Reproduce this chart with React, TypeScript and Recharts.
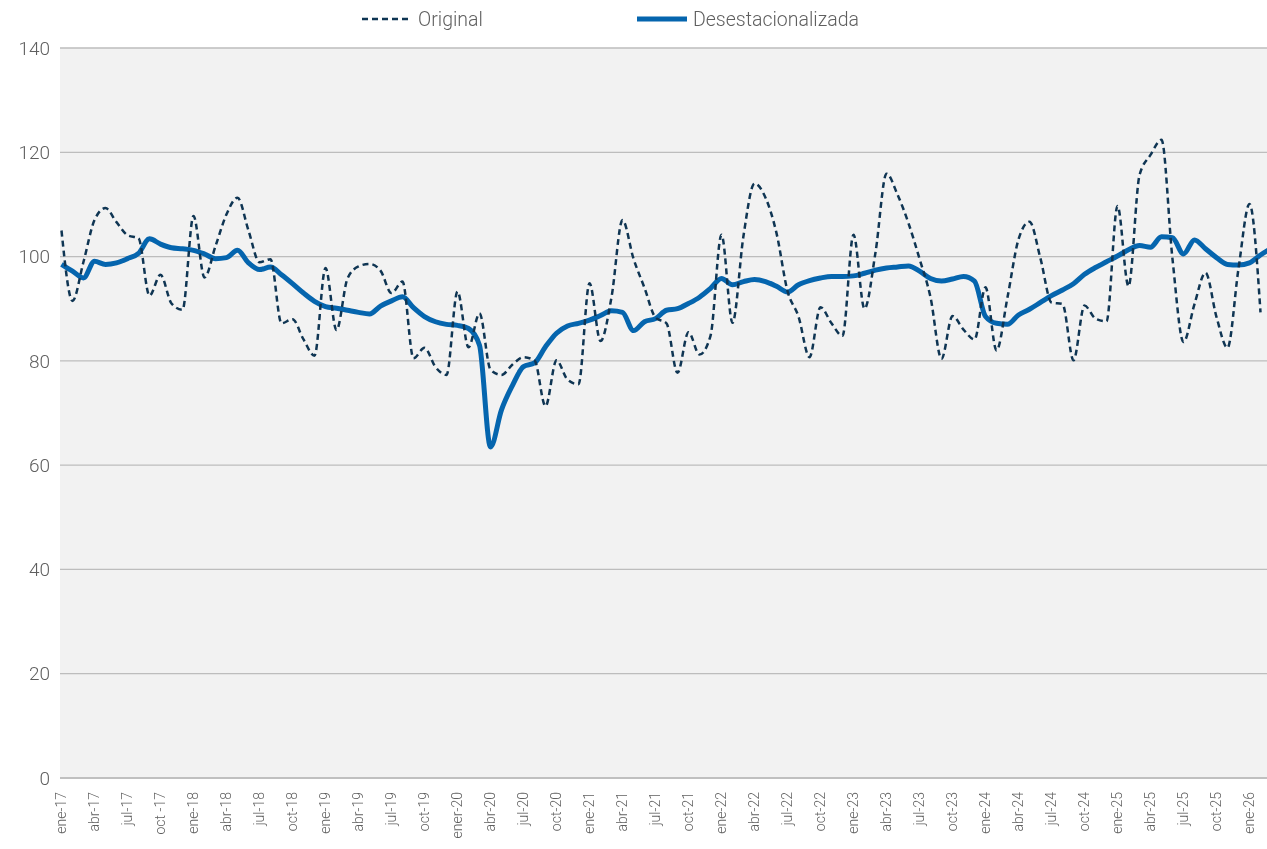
import React from 'react';
import { LineChart, Line, XAxis, YAxis, CartesianGrid } from 'recharts';

const categories = [
  'ene-17','feb-17','mar-17','abr-17','may-17','jun-17','jul-17','ago-17','sep-17','oct-17','nov-17','dic-17',
  'ene-18','feb-18','mar-18','abr-18','may-18','jun-18','jul-18','ago-18','sep-18','oct-18','nov-18','dic-18',
  'ene-19','feb-19','mar-19','abr-19','may-19','jun-19','jul-19','ago-19','sep-19','oct-19','nov-19','dic-19',
  'ene-20','feb-20','mar-20','abr-20','may-20','jun-20','jul-20','ago-20','sep-20','oct-20','nov-20','dic-20',
  'ene-21','feb-21','mar-21','abr-21','may-21','jun-21','jul-21','ago-21','sep-21','oct-21','nov-21','dic-21',
  'ene-22','feb-22','mar-22','abr-22','may-22','jun-22','jul-22','ago-22','sep-22','oct-22','nov-22','dic-22',
  'ene-23','feb-23','mar-23','abr-23','may-23','jun-23','jul-23','ago-23','sep-23','oct-23','nov-23','dic-23',
  'ene-24','feb-24','mar-24','abr-24','may-24','jun-24','jul-24','ago-24','sep-24','oct-24','nov-24','dic-24',
  'ene-25','feb-25','mar-25','abr-25','may-25','jun-25','jul-25','ago-25','sep-25','oct-25','nov-25','dic-25',
  'ene-26','feb-26','mar-26',
];

const original = [
  105, 91.5, 99, 107, 109.3, 106.6, 104.1, 103.5, 92.5, 96.5, 91, 89.8,
  107.8, 96, 102, 108.1, 111.3, 105, 98.9, 99.5, 87.2, 88, 84.1, 81,
  97.8, 85.9, 95.8, 98.1, 98.6, 97.3, 93, 95.2, 80.5, 82.5, 78.8, 77.3,
  93.3, 82.6, 89.1, 78.3, 77.3, 79.3, 80.7, 80.1, 71.3, 80.1, 76.4, 75.5,
  94.9, 83.8, 92.2, 107, 99.6, 94, 88.3, 87.2, 77.7, 85.5, 81.2, 84.8,
  104.2, 87.3, 104, 114, 111.3, 104.5, 93.4, 88.5, 80.7, 90.3, 87.2, 84.8,
  104.2, 90, 100.8, 115.9, 111.9, 106.4, 99.6, 92.2, 80.4, 88.6, 86, 84.1,
  94.1, 82, 92.2, 103.3, 106.7, 99.6, 91.2, 90.9, 80.1, 90.6, 88.1, 87.6,
  109.7, 94.3, 115.6, 119.5, 122.4, 99.5, 83.6, 90.9, 96.9, 88.4, 82.5, 97.7,
  110.1, 89.3, null,
];

const desestacionalizada = [
  98.5, 97.2, 95.9, 99.1, 98.5, 98.8, 99.6, 100.6, 103.4, 102.4, 101.7, 101.5,
  101.2, 100.5, 99.6, 99.8, 101.2, 98.8, 97.5, 98, 96.5, 94.8, 93, 91.4,
  90.4, 90.1, 89.7, 89.3, 89, 90.5, 91.5, 92.3, 90.2, 88.5, 87.5, 87,
  86.8, 86.2, 83, 63.5, 70.6, 75.3, 78.9, 79.6, 82.7, 85.3, 86.7, 87.2,
  87.8, 88.7, 89.6, 89.3, 85.8, 87.5, 88.1, 89.7, 90, 91, 92.2, 93.9,
  95.8, 94.6, 95.2, 95.6, 95.2, 94.3, 93.2, 94.6, 95.4, 95.9, 96.2, 96.2,
  96.3, 96.8, 97.4, 97.8, 98, 98.2, 97.2, 95.8, 95.3, 95.7, 96.2, 95.3,
  88.5, 87.2, 87, 88.8, 89.9, 91.2, 92.5, 93.6, 94.8, 96.6, 97.9, 99,
  100.1, 101.3, 102.1, 101.8, 103.8, 103.6, 100.5, 103.2, 101.5, 99.8, 98.5, 98.4,
  98.8, 100.3, 101.6,
];

const tickCategories = [
  'ene-17','abr-17','jul-17','oct-17','ene-18','abr-18','jul-18','oct-18','ene-19','abr-19','jul-19','oct-19',
  'ene-20','abr-20','jul-20','oct-20','ene-21','abr-21','jul-21','oct-21','ene-22','abr-22','jul-22','oct-22',
  'ene-23','abr-23','jul-23','oct-23','ene-24','abr-24','jul-24','oct-24','ene-25','abr-25','jul-25','oct-25','ene-26',
];
const tickTexts = [
  'ene-17','abr-17','jul-17','oct -17','ene-18','abr-18','jul-18','oct-18','ene-19','abr-19','jul-19','oct-19',
  'ener-20','abr-20','jul-20','oct-20','ene-21','abr-21','jul-21','oct-21','ene-22','abr-22','jul-22','oct-22',
  'ene-23','abr-23','jul-23','oct-23','ene-24','abr-24','jul-24','oct-24','ene-25','abr-25','jul-25','oct-25','ene-26',
];
const yTicks = [0, 20, 40, 60, 80, 100, 120, 140];

const data = categories.map((c, i) => ({
  mes: c,
  original: original[i],
  desest: desestacionalizada[i],
}));

const FONT = 'Roboto, "Liberation Sans", Arial, sans-serif';
const TEXT = '#5f5f5f';

const XTick = (props: any) => {
  const { x, y, payload } = props;
  const idx = tickCategories.indexOf(payload.value);
  if (idx < 0) return null;
  const ty = y + 6;
  return (
    <text
      x={x}
      y={ty}
      dy="0.35em"
      transform={`rotate(-90 ${x} ${ty})`}
      textAnchor="end"
      fill={TEXT}
      fontSize={14}
      fontWeight={300}
      fontFamily={FONT}
    >
      {tickTexts[idx]}
    </text>
  );
};

const YTick = (props: any) => {
  const { x, y, payload } = props;
  return (
    <text x={x} y={y} dy="0.35em" textAnchor="end" fill={TEXT} fontSize={19} fontWeight={300} fontFamily={FONT}>
      {payload.value}
    </text>
  );
};

export default function App() {
  return (
    <div style={{ position: 'fixed', left: 8, top: 8, width: 1259, height: 841, overflow: 'hidden' }}>
      <div
        style={{
          position: 'absolute',
          top: 0,
          left: 0,
          width: 1259,
          height: 24,
          fontFamily: FONT,
          fontWeight: 300,
          fontSize: 19.5,
          color: TEXT,
          zIndex: 2,
        }}
      >
        <div style={{ position: 'absolute', left: 354, top: 0, display: 'flex', alignItems: 'center', height: 22 }}>
          <svg width={50} height={10} style={{ marginRight: 6 }}>
            <line x1={0} y1={5} x2={50} y2={5} stroke="#0f3553" strokeWidth={2.5} strokeDasharray="6 4" />
          </svg>
          <span>Original</span>
        </div>
        <div style={{ position: 'absolute', left: 629, top: 0, display: 'flex', alignItems: 'center', height: 22 }}>
          <svg width={50} height={10} style={{ marginRight: 6 }}>
            <line x1={0} y1={5} x2={50} y2={5} stroke="#0565ae" strokeWidth={5} />
          </svg>
          <span>Desestacionalizada</span>
        </div>
      </div>
      <LineChart
        width={1270}
        height={841}
        data={data}
        margin={{ top: 40, right: 0, left: 0, bottom: 0 }}
      >
        <CartesianGrid vertical={false} stroke="#bdbdbd" strokeWidth={1.3} fill="#f2f2f2" />
        <XAxis
          dataKey="mes"
          interval={0}
          ticks={tickCategories}
          tick={<XTick />}
          tickLine={false}
          axisLine={{ stroke: '#bdbdbd', strokeWidth: 1.5 }}
          height={71}
          padding={{ left: 1.5, right: 6.5 }}
        />
        <YAxis
          domain={[0, 140]}
          ticks={yTicks}
          interval={0}
          tick={<YTick />}
          tickLine={false}
          axisLine={false}
          tickSize={0}
          tickMargin={10}
          width={52}
        />
        <Line
          type="monotone"
          dataKey="desest"
          stroke="#0565ae"
          strokeWidth={5}
          dot={false}
          isAnimationActive={false}
        />
        <Line
          type="monotone"
          dataKey="original"
          stroke="#0f3553"
          strokeWidth={2.5}
          strokeDasharray="6 4"
          dot={false}
          isAnimationActive={false}
        />
      </LineChart>
    </div>
  );
}
